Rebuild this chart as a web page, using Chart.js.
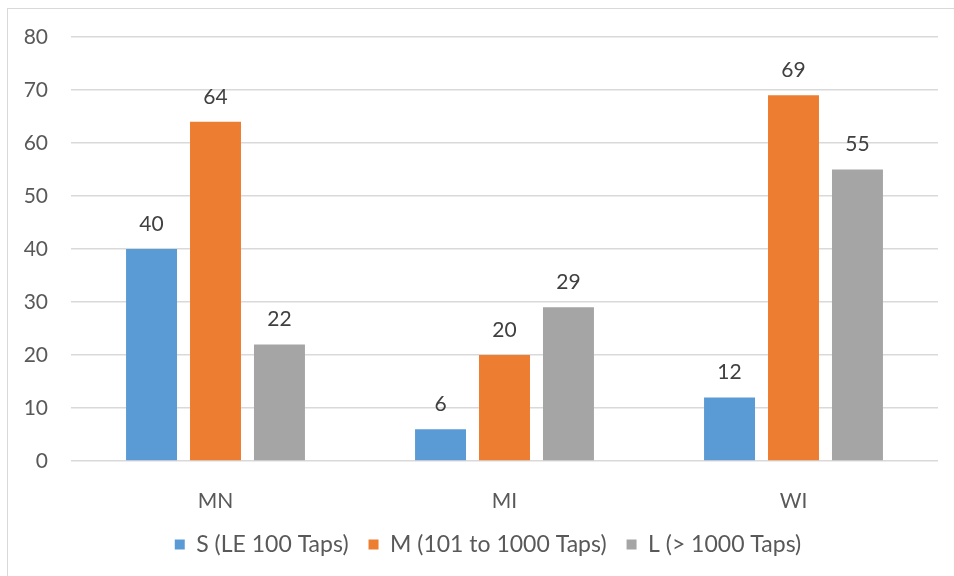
<!DOCTYPE html>
<html>
<head>
<meta charset="utf-8">
<script src="https://cdn.jsdelivr.net/npm/chart.js@4"></script>
<style>
  html, body { margin: 0; padding: 0; background: #fff; }
  #wrap { position: relative; width: 954px; height: 576px; overflow: hidden; }
  #frame { position: absolute; left: 7px; top: 8px; width: 1000px; height: 1000px; border: 1.5px solid #d9d9d9; box-sizing: border-box; pointer-events: none; }
  canvas { position: absolute; left: 0; top: 0; }
</style>
</head>
<body>
<div id="wrap">
  <canvas id="chart" width="954" height="576"></canvas>
  <div id="frame"></div>
</div>
<script>
const states = ['MN', 'MI', 'WI'];
const smallTaps = [40, 6, 12];
const mediumTaps = [64, 20, 69];
const largeTaps = [22, 29, 55];

const FONT = 'Lato';

// write the value above each bar
const barValues = {
  id: 'barValues',
  afterDatasetsDraw(chart) {
    const ctx = chart.ctx;
    ctx.save();
    ctx.font = '21px ' + FONT;
    ctx.fillStyle = '#404040';
    ctx.textAlign = 'center';
    ctx.textBaseline = 'middle';
    chart.data.datasets.forEach((ds, i) => {
      chart.getDatasetMeta(i).data.forEach((bar, j) => {
        ctx.fillText(ds.data[j], bar.x, bar.y - 25);
      });
    });
    ctx.restore();
  }
};

// legend sits a little right of the canvas centre
const legendShift = {
  id: 'legendShift',
  afterLayout(chart) {
    chart.legend.left += 19;
    chart.legend.right += 19;
  }
};

new Chart(document.getElementById('chart'), {
  type: 'bar',
  data: {
    labels: states,
    datasets: [
      { label: 'S (LE 100 Taps)', data: smallTaps, backgroundColor: '#5b9bd5' },
      { label: 'M (101 to 1000 Taps)', data: mediumTaps, backgroundColor: '#ed7d31' },
      { label: 'L (> 1000 Taps)', data: largeTaps, backgroundColor: '#a5a5a5' }
    ]
  },
  options: {
    responsive: false,
    animation: false,
    layout: { padding: { left: 0, right: 16, top: 37, bottom: 10 } },
    datasets: {
      bar: { categoryPercentage: 0.664, barPercentage: 0.797 }
    },
    scales: {
      x: {
        grid: { display: false },
        border: { display: false },
        ticks: { color: '#595959', font: { family: FONT, size: 21 }, padding: 20 },
        afterFit(scale) { scale.height = 52; }
      },
      y: {
        min: 0,
        max: 80,
        ticks: { stepSize: 10, color: '#595959', font: { family: FONT, size: 21 }, padding: 23 },
        grid: { color: '#d9d9d9', lineWidth: 1.5, drawTicks: false },
        border: { display: false },
        afterFit(scale) { scale.width = 71; }
      }
    },
    plugins: {
      legend: {
        position: 'bottom',
        labels: {
          boxWidth: 10,
          boxHeight: 10,
          padding: 20,
          color: '#595959',
          font: { family: FONT, size: 23 }
        }
      },
      tooltip: { enabled: false }
    }
  },
  plugins: [barValues, legendShift]
});
</script>
</body>
</html>
